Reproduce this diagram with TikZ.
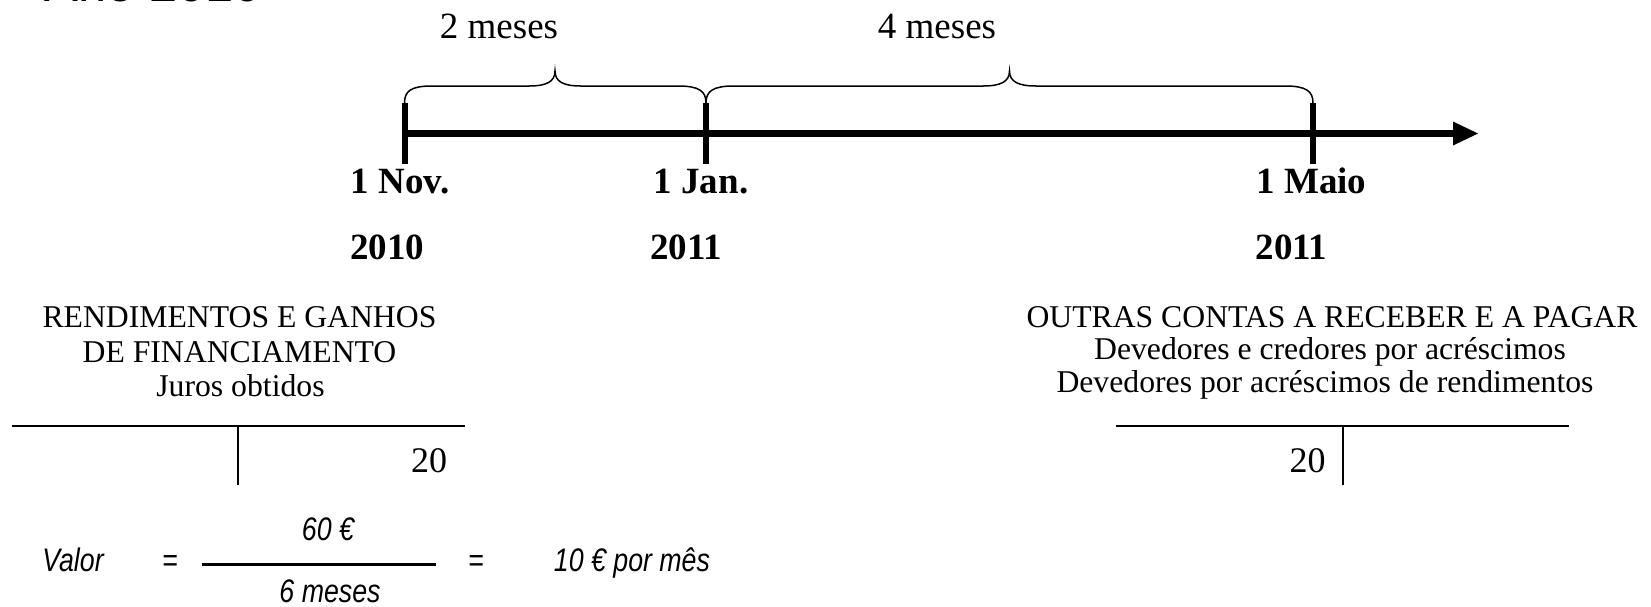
\documentclass[tikz,border=0pt]{standalone}
\usepackage{fontspec}
\setmainfont{Liberation Serif}
\setsansfont{Liberation Sans}
\newfontfamily\formfont{Liberation Sans}[FakeStretch=0.82]
\begin{document}
\begin{tikzpicture}[x=0.5pt,y=-0.5pt,
  txt/.style={inner sep=0pt, outer sep=0pt, anchor=base},
  title/.style={txt, font=\fontsize{15.85}{19}\selectfont},
  datelbl/.style={txt, font=\fontsize{18.5}{22}\selectfont\bfseries},
  meses/.style={txt, font=\fontsize{18.5}{22}\selectfont},
  num/.style={txt, font=\fontsize{18}{22}\selectfont},
  form/.style={txt, font=\formfont\itshape\fontsize{16.3}{19}\selectfont},
  axisline/.style={line width=3.5pt},
  tickline/.style={line width=3pt},
  bracepath/.style={line width=0.75pt},
  tline/.style={line width=1pt},
  fracline/.style={line width=1.5pt},
]
\useasboundingbox (0,0) rectangle (1651,606);
\clip (0,0) rectangle (1651,606);

% header (cut off at the top)
\node[txt, anchor=base west, font=\sffamily\fontsize{25.3}{28}\selectfont] (ano) at (45,1) {Ano 2010};

% timeline coordinates
\coordinate (t1top) at (404.5,103);
\coordinate (t1bot) at (404.5,164);
\coordinate (t2top) at (706,103);
\coordinate (t2bot) at (706,164);
\coordinate (t3top) at (1313,103);
\coordinate (t3bot) at (1313,164);
\coordinate (axstart) at (404.5,133.5);
\coordinate (axend) at (1456,133.5);
\coordinate (tip) at (1478,133.5);

% axis and arrow head
\draw[axisline] (axstart) -- (axend);
\fill (1453,121.5) -- (tip) -- (1453,145.5) -- cycle;

% ticks
\draw[tickline] (t1top) -- (t1bot);
\draw[tickline] (t2top) -- (t2bot);
\draw[tickline] (t3top) -- (t3bot);

% braces
\draw[bracepath] (t1top) .. controls (404.5,91) and (411,86) .. (432,86)
  -- (529,86) .. controls (546,86) and (555,82) .. (555,71)
  .. controls (555,82) and (564,86) .. (581,86)
  -- (678,86) .. controls (699,86) and (706,91) .. (t2top);
\draw[bracepath] (t2top) .. controls (706,91) and (713,86) .. (734,86)
  -- (983,86) .. controls (1000,86) and (1009.5,82) .. (1009.5,71)
  .. controls (1009.5,82) and (1019,86) .. (1036,86)
  -- (1285,86) .. controls (1306,86) and (1313,91) .. (t3top);

% brace labels
\node[meses] (m2) at (499,38) {2 meses};
\node[meses] (m4) at (937,38) {4 meses};

% dates
\node[datelbl] (d1) at (400,193.5) {1 Nov.};
\node[datelbl] (y1) at (387,259) {2010};
\node[datelbl] (d2) at (701,193.5) {1 Jan.};
\node[datelbl] (y2) at (686,259) {2011};
\node[datelbl] (d3) at (1311.5,193.5) {1 Maio};
\node[datelbl] (y3) at (1291.5,259) {2011};

% left account
\node[title] (l1) at (239.5,327) {RENDIMENTOS E GANHOS};
\node[title] (l2) at (239.5,362.5) {DE FINANCIAMENTO};
\node[title] (l3) at (240.5,396.5) {Juros obtidos};
\coordinate (lh1) at (11.5,425.5);
\coordinate (lh2) at (464.5,425.5);
\coordinate (lv1) at (238,425.5);
\coordinate (lv2) at (238,485);
\draw[tline] (lh1) -- (lh2);
\draw[tline] (lv1) -- (lv2);
\node[num] (l20) at (429,472.5) {20};

% right account
\node[title] (r1) at (1332,327) {OUTRAS CONTAS A RECEBER E A PAGAR};
\node[title] (r2) at (1330,359.5) {Devedores e credores por acréscimos};
\node[title] (r3) at (1325,392.5) {Devedores por acréscimos de rendimentos};
\coordinate (rh1) at (1115.5,425.5);
\coordinate (rh2) at (1568.5,425.5);
\coordinate (rv1) at (1342.5,425.5);
\coordinate (rv2) at (1342.5,485);
\draw[tline] (rh1) -- (rh2);
\draw[tline] (rv1) -- (rv2);
\node[num] (r20) at (1307.5,472.5) {20};

% formula
\node[form] (valor) at (73,571.5) {Valor};
\node[form] (eq1) at (170,571.5) {=};
\coordinate (fr1) at (202,564);
\coordinate (fr2) at (436,564);
\draw[fracline] (fr1) -- (fr2);
\node[form] (num60) at (328,540) {60 €};
\node[form] (den6) at (330,602) {6 meses};
\node[form] (eq2) at (476,571.5) {=};
\node[form] (res) at (632,571.5) {10 € por mês};
\end{tikzpicture}
\end{document}
